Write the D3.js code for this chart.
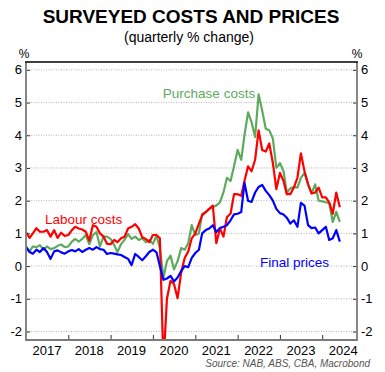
<!DOCTYPE html>
<html>
<head>
<meta charset="utf-8">
<script src="https://cdn.jsdelivr.net/npm/d3@7"></script>
<style>
  body { margin: 0; background: #fff; }
  svg { display: block; font-family: "Liberation Sans", Arial, sans-serif; }
</style>
</head>
<body>
<svg id="chart" width="385" height="372"></svg>
<script>
// monthly survey readings, Jan 2017 - Jun 2024 (quarterly % change)
const labourCosts = [
  1.04, 0.86, 1.0, 1.16, 1.05, 1.05, 1.1, 0.9, 1.1, 0.86, 1.02, 0.92,
  0.95, 1.1, 1.2, 1.15, 1.12, 1.05, 0.78, 1.25, 1.2, 1.0, 0.9, 0.68,
  0.67, 0.8, 0.73, 0.85, 0.9, 1.15, 1.2, 1.28, 1.15, 0.88, 0.83, 0.73,
  0.95, 0.95, 0.85, -3.0, -1.0, -0.45, -0.55, -0.98, -0.2, 0.25, 0.45, 0.85,
  1.0, 1.3, 1.55, 1.65, 1.75, 1.85, 0.7, 1.15, 0.9, 1.5, 1.6, 2.2,
  2.2, 2.15, 2.6, 3.05, 2.9, 3.25, 4.15, 3.55, 3.5, 3.75, 3.15, 2.35,
  2.85, 2.6, 2.2, 2.2, 2.4, 2.7, 3.45, 2.9, 2.5, 2.22, 2.25, 2.4,
  2.1, 2.1, 1.95, 1.6, 2.25, 1.8
];
const purchaseCosts = [
  0.6, 0.45, 0.6, 0.58, 0.64, 0.5, 0.6, 0.52, 0.55, 0.62, 0.66, 0.58,
  0.6, 0.75, 0.83, 0.75, 0.83, 0.95, 0.67, 0.95, 1.04, 0.6, 0.9, 0.9,
  0.83, 0.64, 0.43, 0.67, 0.8, 0.98, 0.83, 0.9, 0.8, 0.85, 0.73, 0.8,
  0.68, 0.93, 0.55, -0.35, 0.15, 0.32, -0.1, 0.15, 0.55, 0.5, 0.7, 1.25,
  0.95, 1.0, 1.6, 1.65, 1.75, 1.8, 1.85, 1.95, 2.25, 2.7, 2.6, 3.05,
  3.55, 3.25, 4.0, 4.7, 4.4, 3.95, 5.25, 4.75, 4.2, 4.15, 3.9, 3.0,
  3.15, 2.9, 2.25, 2.38, 2.42, 2.4, 2.7, 2.85, 2.5, 2.22, 2.5, 2.0,
  1.98, 1.95, 1.93, 1.35, 1.66, 1.35
];
const finalPrices = [
  0.58, 0.43, 0.38, 0.5, 0.43, 0.55, 0.43, 0.22, 0.45, 0.48, 0.42, 0.38,
  0.45, 0.49, 0.45, 0.52, 0.43, 0.5, 0.55, 0.5, 0.58, 0.52, 0.5, 0.37,
  0.4, 0.38, 0.36, 0.34, 0.28, 0.22, 0.03, 0.37, 0.28, 0.18, 0.3, 0.43,
  0.5, 0.42, 0.0, -0.42, -0.38, -0.3, -0.47, -0.35, -0.15, 0.0, -0.03, 0.25,
  0.4, 0.5, 1.0, 1.1, 1.15, 1.25, 1.04, 1.16, 1.2, 1.25, 1.4, 1.58,
  1.6, 1.65, 2.55, 2.0, 1.96, 2.25, 2.42, 2.48, 2.3, 2.17, 2.0, 1.75,
  1.62, 1.58, 1.48, 1.3, 1.4, 1.2, 1.93, 1.85, 1.25, 1.16, 1.18, 1.0,
  1.1, 1.2, 0.8, 0.85, 1.1, 0.75
];
const months = d3.timeMonth.range(new Date(2017, 0, 1), new Date(2024, 6, 1));
const years = [2017, 2018, 2019, 2020, 2021, 2022, 2023, 2024];
const yTicks = [-2, -1, 0, 1, 2, 3, 4, 5, 6];

const series = [
  { name: "Purchase costs", values: purchaseCosts, color: "#5daa5d", label: [209, 98, "middle"] },
  { name: "Labour costs", values: labourCosts, color: "#ff0000", label: [45, 224, "start"] },
  { name: "Final prices", values: finalPrices, color: "#0000ff", label: [260, 267, "start"] }
];

const plotLeft = 26, plotRight = 357, plotTop = 62, plotBottom = 340;
const svg = d3.select("#chart");

const x = d3.scaleTime()
  .domain([new Date(2017, 0, 1), new Date(2024, 9, 27)])
  .range([plotLeft, plotRight]);
const y = d3.scaleLinear()
  .domain([-2.26, 6.24])
  .range([plotBottom, plotTop]);

// title
svg.append("text")
  .attr("x", 191).attr("y", 23)
  .attr("text-anchor", "middle")
  .attr("font-size", 19).attr("font-weight", "bold")
  .text("SURVEYED COSTS AND PRICES");
svg.append("text")
  .attr("x", 189).attr("y", 42)
  .attr("text-anchor", "middle")
  .attr("font-size", 14)
  .text("(quarterly % change)");

// gridlines
svg.append("g")
  .selectAll("line")
  .data(yTicks)
  .join("line")
  .attr("x1", plotLeft).attr("x2", plotRight)
  .attr("y1", d => y(d)).attr("y2", d => y(d))
  .attr("stroke", "#b5b5b5")
  .attr("stroke-dasharray", "1,1.5");

// lines
svg.append("clipPath").attr("id", "plot")
  .append("rect")
  .attr("x", plotLeft).attr("y", plotTop)
  .attr("width", plotRight - plotLeft).attr("height", plotBottom - plotTop);

const line = d3.line()
  .x((d, i) => x(months[i]))
  .y(d => y(d));

svg.append("g")
  .attr("clip-path", "url(#plot)")
  .selectAll("path")
  .data(series)
  .join("path")
  .attr("fill", "none")
  .attr("stroke", d => d.color)
  .attr("stroke-width", 2.2)
  .attr("stroke-linejoin", "round")
  .attr("d", d => line(d.values));

svg.append("g")
  .selectAll("text")
  .data(series)
  .join("text")
  .attr("x", d => d.label[0]).attr("y", d => d.label[1])
  .attr("text-anchor", d => d.label[2])
  .attr("font-size", 13.5)
  .attr("fill", d => d.color)
  .text(d => d.name);

// axes
const leftAxis = svg.append("g")
  .attr("transform", `translate(${plotLeft},0)`)
  .call(d3.axisRight(y).tickValues(yTicks).tickSize(4).tickFormat(""));
const rightAxis = svg.append("g")
  .attr("transform", `translate(${plotRight},0)`)
  .call(d3.axisLeft(y).tickValues(yTicks).tickSize(4).tickFormat(""));
const bottomAxis = svg.append("g")
  .attr("transform", `translate(0,${plotBottom})`)
  .call(d3.axisTop(x).tickValues(years.slice(1).map(yr => new Date(yr, 0, 1))).tickSize(5).tickFormat(""));

[leftAxis, rightAxis, bottomAxis].forEach(g => {
  g.select(".domain").remove();
  g.selectAll(".tick line").attr("stroke", "#333");
});

svg.append("path")
  .attr("d", `M${plotLeft},${plotTop}V${plotBottom}H${plotRight}V${plotTop}`)
  .attr("fill", "none")
  .attr("stroke", "#7a7a7a")
  .attr("stroke-width", 1.8);
svg.append("line")
  .attr("x1", plotLeft - 0.9).attr("x2", plotRight + 0.9)
  .attr("y1", plotTop).attr("y2", plotTop)
  .attr("stroke", "#000")
  .attr("stroke-width", 1.5);

// tick labels
svg.append("g")
  .selectAll("text")
  .data(yTicks)
  .join("text")
  .attr("x", plotLeft - 4).attr("y", d => y(d) + 4.5)
  .attr("text-anchor", "end")
  .attr("font-size", 13)
  .text(d => d);
svg.append("g")
  .selectAll("text")
  .data(yTicks)
  .join("text")
  .attr("x", plotRight + 4).attr("y", d => y(d) + 4.5)
  .attr("font-size", 13)
  .text(d => d);
svg.append("text").attr("x", 24).attr("y", 58).attr("text-anchor", "middle").attr("font-size", 12).text("%");
svg.append("text").attr("x", 357).attr("y", 58).attr("text-anchor", "middle").attr("font-size", 12).text("%");

svg.append("g")
  .selectAll("text")
  .data(years)
  .join("text")
  .attr("x", d => x(new Date(d, 6, 1)))
  .attr("y", 354.5)
  .attr("text-anchor", "middle")
  .attr("font-size", 13)
  .text(d => d);

svg.append("text")
  .attr("x", 370).attr("y", 367)
  .attr("text-anchor", "end")
  .attr("font-size", 10)
  .attr("font-style", "italic")
  .attr("fill", "#555")
  .text("Source: NAB, ABS, CBA, Macrobond");
</script>
</body>
</html>
